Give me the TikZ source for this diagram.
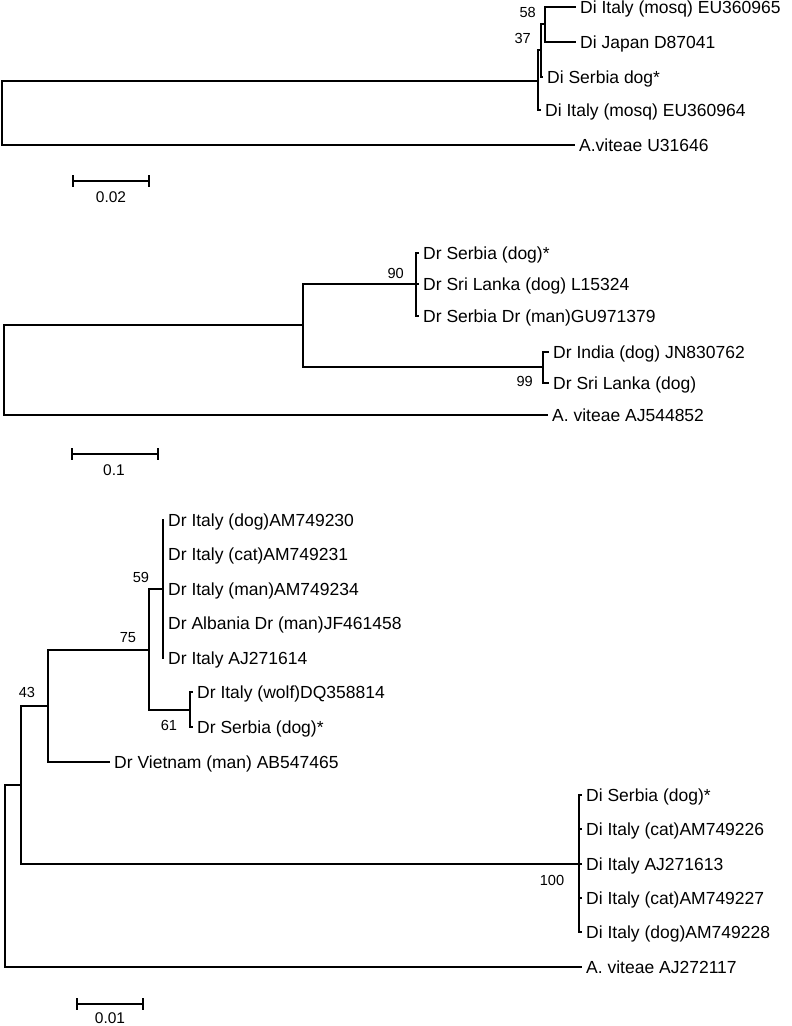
\documentclass[tikz,border=0pt]{standalone}
\usepackage{fontspec}
\newfontfamily\arialf{Liberation Sans}
\begin{document}
\begin{tikzpicture}[x=1pt,y=-1pt,
  br/.style={line width=2pt, line join=miter},
  lab/.style={anchor=west, inner xsep=4pt, inner ysep=0pt, text height=14pt, text depth=1.5pt,
    font=\arialf\fontsize{17.5}{20}\selectfont},
  boot/.style={inner sep=0pt, text height=10.4pt, text depth=0pt,
    font=\arialf\fontsize{14.6}{16}\selectfont},
  sclab/.style={inner sep=0pt, text height=10.8pt, text depth=0pt,
    font=\arialf\fontsize{15.5}{17}\selectfont}]
\useasboundingbox (0,0) rectangle (792,1026);

% ---------------- Tree 1 ----------------
\coordinate (r1) at (2,113);
\coordinate (c1) at (538,81);
\coordinate (b1) at (541,50);
\coordinate (a1) at (545,24);
\node[lab] (t1a) at (576,7) {Di Italy (mosq) EU360965};
\node[lab] (t1b) at (576,42) {Di Japan D87041};
\node[lab] (t1c) at (543,77) {Di Serbia dog*};
\node[lab] (t1d) at (541,110) {Di Italy (mosq) EU360964};
\node[lab] (t1e) at (575,145) {A.viteae U31646};
\draw[br] (r1) |- (c1);
\draw[br] (r1) |- (t1e.west);
\draw[br] (c1) |- (b1);
\draw[br] (c1) |- (t1d.west);
\draw[br] (b1) |- (a1);
\draw[br] (b1) |- (t1c.west);
\draw[br] (a1) |- (t1a.west);
\draw[br] (a1) |- (t1b.west);
\node[boot, anchor=east] (bs58) at (536,12) {58};
\node[boot, anchor=east] (bs37) at (531,38) {37};
% scale
\coordinate (s1a) at (73,181);
\coordinate (s1b) at (149,181);
\draw[br] (s1a) -- (s1b);
\draw[br] ([yshift=6pt]s1a) -- ([yshift=-6pt]s1a);
\draw[br] ([yshift=6pt]s1b) -- ([yshift=-6pt]s1b);
\node[sclab] (sl1) at (111,197) {0.02};

% ---------------- Tree 2 ----------------
\coordinate (r2) at (4,370);
\coordinate (m2) at (303,325);
\coordinate (n90) at (416,284);
\coordinate (n99) at (543,367);
\node[lab] (t2a) at (419,253) {Dr Serbia (dog)*};
\node[lab] (t2b) at (419,284) {Dr Sri Lanka (dog) L15324};
\node[lab] (t2c) at (419,316) {Dr Serbia Dr (man)GU971379};
\node[lab] (t2d) at (549,352) {Dr India (dog) JN830762};
\node[lab] (t2e) at (549,383) {Dr Sri Lanka (dog)};
\node[lab] (t2f) at (548,415) {A. viteae AJ544852};
\draw[br] (r2) |- (m2);
\draw[br] (r2) |- (t2f.west);
\draw[br] (m2) |- (n90);
\draw[br] (m2) |- (n99);
\draw[br] (n90) |- (t2a.west);
\draw[br] (n90) |- (t2b.west);
\draw[br] (n90) |- (t2c.west);
\draw[br] (n99) |- (t2d.west);
\draw[br] (n99) |- (t2e.west);
\node[boot, anchor=east] (bs90) at (404,273) {90};
\node[boot, anchor=east] (bs99) at (533,381) {99};
% scale
\coordinate (s2a) at (72,454);
\coordinate (s2b) at (158,454);
\draw[br] (s2a) -- (s2b);
\draw[br] ([yshift=6pt]s2a) -- ([yshift=-6pt]s2a);
\draw[br] ([yshift=6pt]s2b) -- ([yshift=-6pt]s2b);
\node[sclab] (sl2) at (114,470) {0.1};

% ---------------- Tree 3 ----------------
\coordinate (r3) at (5,876);
\coordinate (d3) at (21,785);
\coordinate (n43) at (48,706);
\coordinate (n75) at (149,650);
\coordinate (n59) at (163,589);
\coordinate (n61) at (190,710);
\coordinate (n100) at (579,864);
\node[lab] (t3a) at (164,520) {Dr Italy (dog)AM749230};
\node[lab] (t3b) at (164,554) {Dr Italy (cat)AM749231};
\node[lab] (t3c) at (164,589) {Dr Italy (man)AM749234};
\node[lab] (t3d) at (164,623) {Dr Albania Dr (man)JF461458};
\node[lab] (t3e) at (164,658) {Dr Italy AJ271614};
\node[lab] (t3f) at (193,692) {Dr Italy (wolf)DQ358814};
\node[lab] (t3g) at (193,727) {Dr Serbia (dog)*};
\node[lab] (t3h) at (110,762) {Dr Vietnam (man) AB547465};
\node[lab] (t3i) at (582,795) {Di Serbia (dog)*};
\node[lab] (t3j) at (582,829) {Di Italy (cat)AM749226};
\node[lab] (t3k) at (582,864) {Di Italy AJ271613};
\node[lab] (t3l) at (582,898) {Di Italy (cat)AM749227};
\node[lab] (t3m) at (582,932) {Di Italy (dog)AM749228};
\node[lab] (t3n) at (582,967) {A. viteae AJ272117};
\draw[br] (r3) |- (d3);
\draw[br] (r3) |- (t3n.west);
\draw[br] (d3) |- (n43);
\draw[br] (d3) |- (n100);
\draw[br] (n43) |- (n75);
\draw[br] (n43) |- (t3h.west);
\draw[br] (n75) |- (n59);
\draw[br] (n75) |- (n61);
\draw[br] (n59) |- (t3a.west);
\draw[br] (n59) |- (t3b.west);
\draw[br] (n59) |- (t3c.west);
\draw[br] (n59) |- (t3d.west);
\draw[br] (n59) |- (t3e.west);
\draw[br] (n61) |- (t3f.west);
\draw[br] (n61) |- (t3g.west);
\draw[br] (n100) |- (t3i.west);
\draw[br] (n100) |- (t3j.west);
\draw[br] (n100) |- (t3k.west);
\draw[br] (n100) |- (t3l.west);
\draw[br] (n100) |- (t3m.west);
\node[boot] (bs43) at (27,692) {43};
\node[boot] (bs75) at (128,637) {75};
\node[boot] (bs59) at (141,577) {59};
\node[boot] (bs61) at (169,725) {61};
\node[boot] (bs100) at (552,880) {100};
% scale
\coordinate (s3a) at (77,1004);
\coordinate (s3b) at (143,1004);
\draw[br] (s3a) -- (s3b);
\draw[br] ([yshift=6pt]s3a) -- ([yshift=-6pt]s3a);
\draw[br] ([yshift=6pt]s3b) -- ([yshift=-6pt]s3b);
\node[sclab] (sl3) at (110,1018) {0.01};
\end{tikzpicture}
\end{document}
